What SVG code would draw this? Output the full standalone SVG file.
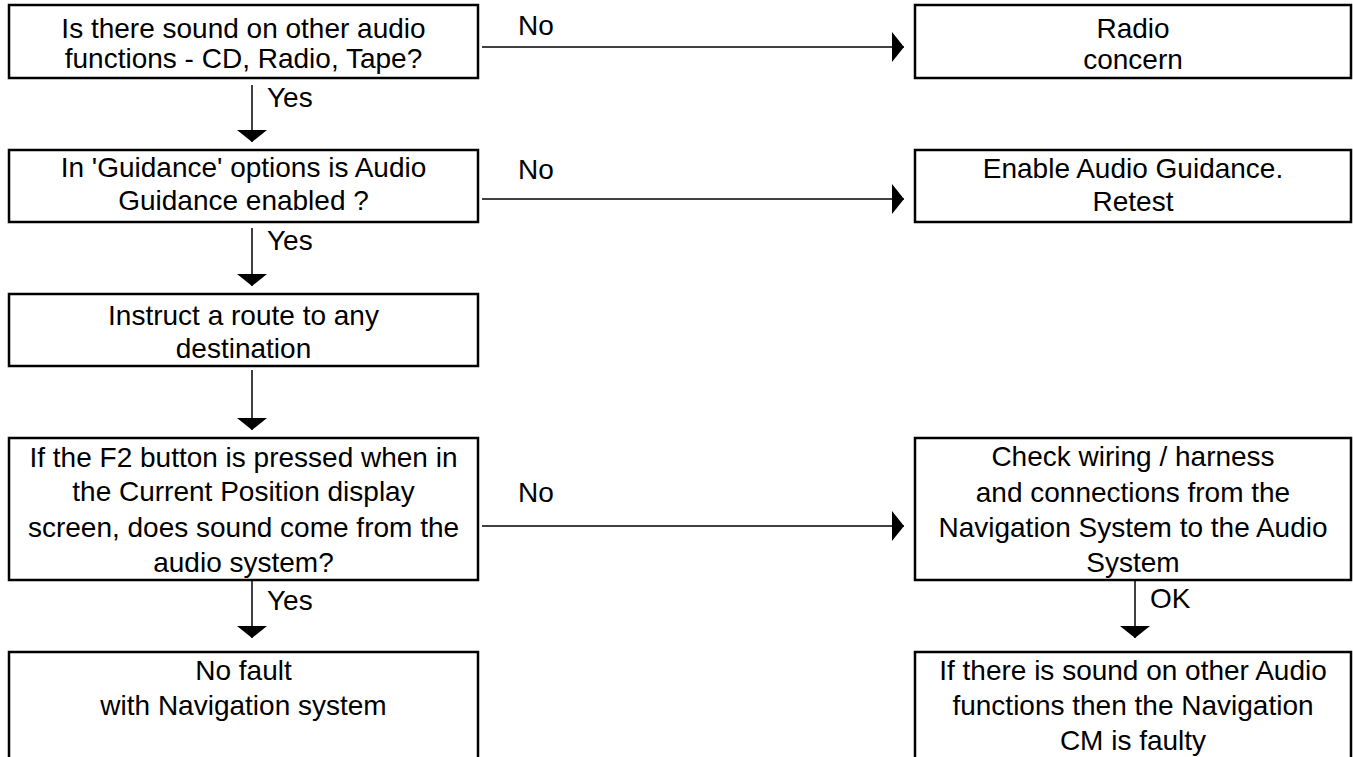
<svg xmlns="http://www.w3.org/2000/svg" width="1353" height="757" viewBox="0 0 1353 757">
  <defs>
    <style>
      .box { fill: #ffffff; stroke: #000000; stroke-width: 2.5; }
      .lbl { font-family: "Liberation Sans", Arial, sans-serif; font-size: 28px; fill: #000000; text-anchor: middle; }
      .edge-lbl { font-family: "Liberation Sans", Arial, sans-serif; font-size: 28px; fill: #000000; }
      .wire { fill: none; stroke: #000000; stroke-width: 1.5; marker-end: url(#head); }
    </style>
    <marker id="head" markerUnits="userSpaceOnUse" markerWidth="12" markerHeight="30" refX="12" refY="15" orient="auto">
      <path d="M0,0 L12,15 L0,30 Z" fill="#000000"/>
    </marker>
  </defs>
  <rect width="1353" height="757" fill="#ffffff"/>

  <!-- left column -->
  <g id="q-other-audio">
    <rect class="box" x="9" y="5" width="469" height="73"/>
    <text class="lbl" x="243.5" y="38">Is there sound on other audio</text>
    <text class="lbl" x="243.5" y="68">functions - CD, Radio, Tape?</text>
  </g>
  <g id="q-guidance">
    <rect class="box" x="9" y="150" width="469" height="72"/>
    <text class="lbl" x="243.5" y="177">In 'Guidance' options is Audio</text>
    <text class="lbl" x="243.5" y="210">Guidance enabled ?</text>
  </g>
  <g id="instruct-route">
    <rect class="box" x="9" y="294" width="469" height="72"/>
    <text class="lbl" x="243.5" y="325">Instruct a route to any</text>
    <text class="lbl" x="243.5" y="358">destination</text>
  </g>
  <g id="q-f2-button">
    <rect class="box" x="9" y="438" width="469" height="142"/>
    <text class="lbl" x="243.5" y="467">If the F2 button is pressed when in</text>
    <text class="lbl" x="243.5" y="501">the Current Position display</text>
    <text class="lbl" x="243.5" y="537">screen, does sound come from the</text>
    <text class="lbl" x="243.5" y="572">audio system?</text>
  </g>
  <g id="no-fault">
    <rect class="box" x="9" y="652" width="469" height="130"/>
    <text class="lbl" x="243.5" y="680">No fault</text>
    <text class="lbl" x="243.5" y="715">with Navigation system</text>
  </g>

  <!-- right column -->
  <g id="radio-concern">
    <rect class="box" x="915" y="5" width="436" height="73"/>
    <text class="lbl" x="1133" y="38">Radio</text>
    <text class="lbl" x="1133" y="69">concern</text>
  </g>
  <g id="enable-guidance">
    <rect class="box" x="915" y="150" width="436" height="72"/>
    <text class="lbl" x="1133" y="178">Enable Audio Guidance.</text>
    <text class="lbl" x="1133" y="211">Retest</text>
  </g>
  <g id="check-wiring">
    <rect class="box" x="915" y="438" width="436" height="142"/>
    <text class="lbl" x="1133" y="466">Check wiring / harness</text>
    <text class="lbl" x="1133" y="502">and connections from the</text>
    <text class="lbl" x="1133" y="537">Navigation System to the Audio</text>
    <text class="lbl" x="1133" y="572">System</text>
  </g>
  <g id="cm-faulty">
    <rect class="box" x="915" y="652" width="436" height="130"/>
    <text class="lbl" x="1133" y="680">If there is sound on other Audio</text>
    <text class="lbl" x="1133" y="715">functions then the Navigation</text>
    <text class="lbl" x="1133" y="750">CM is faulty</text>
  </g>

  <!-- connectors -->
  <g id="connectors">
    <line class="wire" x1="482" y1="47" x2="904" y2="47"/>
    <text class="edge-lbl" x="518" y="35">No</text>

    <line class="wire" x1="482" y1="199" x2="904" y2="199"/>
    <text class="edge-lbl" x="518" y="179">No</text>

    <line class="wire" x1="482" y1="526" x2="904" y2="526"/>
    <text class="edge-lbl" x="518" y="502">No</text>

    <line class="wire" x1="252" y1="85" x2="252" y2="142"/>
    <text class="edge-lbl" x="267" y="107">Yes</text>

    <line class="wire" x1="252" y1="228" x2="252" y2="286"/>
    <text class="edge-lbl" x="267" y="250">Yes</text>

    <line class="wire" x1="252" y1="370" x2="252" y2="430"/>

    <line class="wire" x1="252" y1="580" x2="252" y2="638"/>
    <text class="edge-lbl" x="267" y="610">Yes</text>

    <line class="wire" x1="1135" y1="580" x2="1135" y2="638"/>
    <text class="edge-lbl" x="1150" y="608">OK</text>
  </g>
</svg>
